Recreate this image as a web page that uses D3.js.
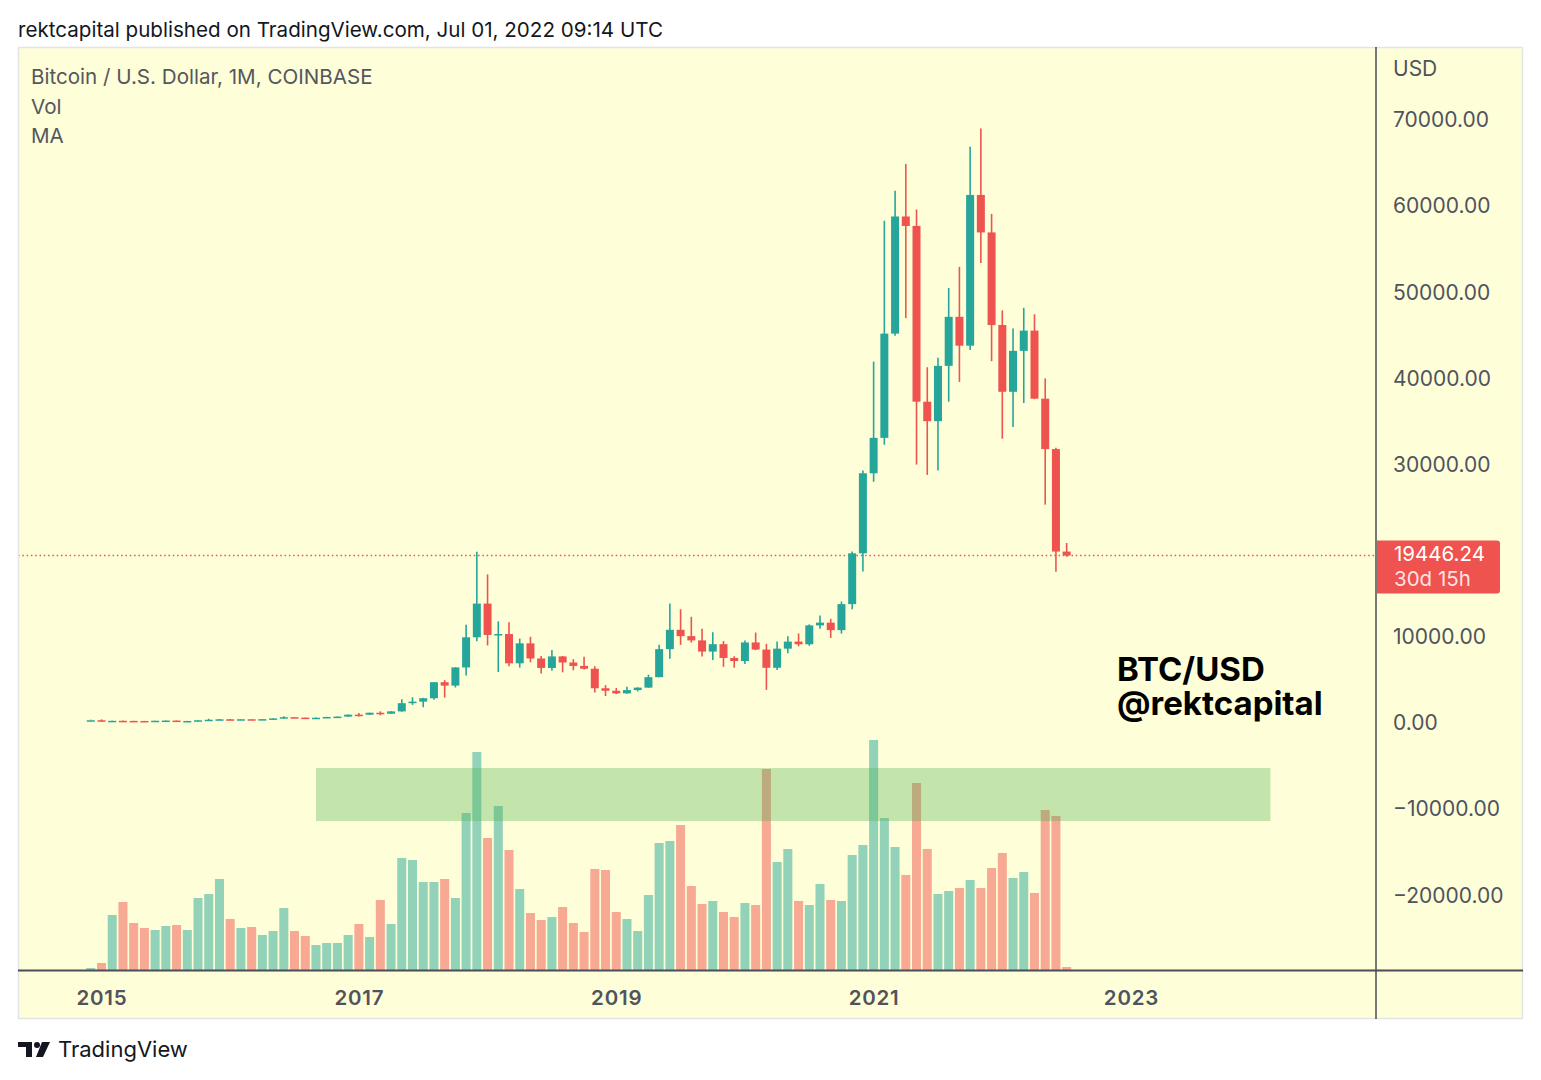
<!DOCTYPE html>
<html><head><meta charset="utf-8">
<script src="https://cdn.jsdelivr.net/npm/d3@7"></script>
<style>
body{margin:0;background:#ffffff;}
text{font-family:Inter,"Noto Sans",sans-serif;}
</style>
</head><body>
<svg id="chart" width="1541" height="1080"></svg>
<script>
// ---------- DATA ----------
const months = [
 "2014-12",
 "2015-01","2015-02","2015-03","2015-04","2015-05","2015-06","2015-07","2015-08","2015-09","2015-10","2015-11","2015-12",
 "2016-01","2016-02","2016-03","2016-04","2016-05","2016-06","2016-07","2016-08","2016-09","2016-10","2016-11","2016-12",
 "2017-01","2017-02","2017-03","2017-04","2017-05","2017-06","2017-07","2017-08","2017-09","2017-10","2017-11","2017-12",
 "2018-01","2018-02","2018-03","2018-04","2018-05","2018-06","2018-07","2018-08","2018-09","2018-10","2018-11","2018-12",
 "2019-01","2019-02","2019-03","2019-04","2019-05","2019-06","2019-07","2019-08","2019-09","2019-10","2019-11","2019-12",
 "2020-01","2020-02","2020-03","2020-04","2020-05","2020-06","2020-07","2020-08","2020-09","2020-10","2020-11","2020-12",
 "2021-01","2021-02","2021-03","2021-04","2021-05","2021-06","2021-07","2021-08","2021-09","2021-10","2021-11","2021-12",
 "2022-01","2022-02","2022-03","2022-04","2022-05","2022-06","2022-07"
];
const open = [
 300,
 318,218,254,244,236,230,263,284,230,236,314,378,
 430,368,437,416,448,531,673,624,573,609,700,742,
 968,965,1190,1079,1348,2300,2480,2875,4735,4340,6450,9950,
 13860,10220,10330,6930,9245,7490,6390,7730,7025,6625,6300,4035,
 3740,3440,3820,4105,5320,8575,10817,10085,9590,8290,9150,7550,
 7195,9350,8525,6410,8630,9450,9140,11330,11650,10780,13800,19700,
 28990,33100,45200,58800,57700,37300,35040,41460,47150,43800,61300,56950,
 46200,38450,43200,45550,37650,31800,19900
];
const high = [
 390,
 420,262,300,260,248,268,315,288,245,340,495,469,
 463,440,440,467,550,780,705,625,630,720,760,975,
 1150,1200,1350,1350,2760,2980,2920,4760,4980,6470,11400,19891,
 17250,11800,11700,9800,10000,7780,8480,7780,7410,7680,6580,4400,
 4070,4210,4140,5610,9090,13880,13200,12330,10950,10540,9520,7750,
 9580,10500,9190,9470,10080,10400,11450,12470,12090,14100,19900,29300,
 41950,58300,61800,64900,59600,41300,42400,50500,52950,66900,69000,59100,
 47900,45800,48200,47450,40000,31950,20900
];
const low = [
 295,
 172,213,235,214,228,221,254,198,225,236,300,350,
 350,365,400,412,435,518,615,540,568,605,685,740,
 750,920,890,1060,1310,2100,1830,2690,2950,4120,5500,9500,
 9000,5920,6600,6430,7050,5750,6080,5880,6120,6200,3550,3130,
 3350,3390,3670,4080,5300,7460,9070,9330,7710,7300,6520,6420,
 6850,8450,3850,6150,8100,8900,8960,10950,9880,10370,13200,17600,
 28000,32300,44950,47000,30000,28800,29300,37300,39600,43300,53400,42000,
 33000,34350,37150,37600,25350,17550,19300
];
const close = [
 318,
 218,254,244,236,230,263,284,230,236,314,378,430,
 368,437,416,448,531,673,624,573,609,700,742,968,
 965,1190,1079,1348,2300,2480,2875,4735,4340,6450,9950,13860,
 10220,10330,6930,9245,7490,6390,7730,7025,6625,6300,4035,3740,
 3440,3820,4105,5320,8575,10817,10085,9590,8290,9150,7550,7195,
 9350,8525,6410,8630,9450,9140,11330,11650,10780,13800,19700,28990,
 33100,45200,58800,57700,37300,35040,41460,47150,43800,61300,56950,46200,
 38450,43200,45550,37650,31800,19900,19446.24
];
// monthly volume (thousand BTC)
const volume = [
 10,
 35,275,340,235,210,200,220,225,200,360,380,455,
 255,210,215,175,195,310,195,170,125,135,135,175,
 230,165,350,230,560,550,440,440,455,360,785,1090,
 660,820,600,405,285,250,265,315,235,190,505,500,
 290,255,195,375,635,645,725,420,330,345,290,265,
 335,325,1005,540,605,345,325,430,350,345,575,625,
 1150,760,615,475,935,605,380,395,410,450,410,510,
 585,460,490,385,800,770,15
];
const priceTicks = [-20000,-10000,0,10000,20000,30000,40000,50000,60000,70000];
const yearTickMonths = ["2015-01","2017-01","2019-01","2021-01","2023-01"];
const yearTickLabels = ["2015","2017","2019","2021","2023"];
const lastPrice = 19446.24;
const countdown = "30d 15h";
const zoneMonths = ["2016-09","2024-02"];
const zonePrices = [-5230,-11380];
const legendLines = ["Bitcoin / U.S. Dollar, 1M, COINBASE","Vol","MA"];
const headerText = "rektcapital published on TradingView.com, Jul 01, 2022 09:14 UTC";
const watermark = ["BTC/USD","@rektcapital"];

// ---------- LAYOUT ----------
const svg = d3.select("#chart");
const W = 1541, H = 1080;
const frame = {x:18, y:47, w:1505, h:972};
const plotRight = 1376, axisBottomY = 970;
const UP = "#26A69A", DOWN = "#EF5350";
const BG = "#FEFED8";

function mIndex(s){ const [yy,mm] = s.split("-").map(Number); return (yy-2014)*12 + (mm-12); }

const x = d3.scaleLinear().domain([1,97]).range([101.5,1131]);
const y = d3.scaleLinear().domain([0,70000]).range([723,120]);
const yv = d3.scaleLinear().domain([0,1150]).range([axisBottomY,740]);

svg.append("rect").attr("width",W).attr("height",H).attr("fill","#fff");
svg.append("text").attr("x",18).attr("y",37).attr("font-size",20.6).attr("fill","#131722").text(headerText);

svg.append("rect").attr("x",frame.x+0.5).attr("y",frame.y+0.5).attr("width",frame.w-1).attr("height",frame.h-1)
  .attr("fill",BG).attr("stroke","#E3E4E8").attr("stroke-width",1.5);

const defs = svg.append("defs");
defs.append("clipPath").attr("id","plotclip").append("rect")
  .attr("x",frame.x+1).attr("y",frame.y+1).attr("width",plotRight-frame.x-1).attr("height",axisBottomY-frame.y-1);

const data = months.map((m,i)=>({m, i:mIndex(m), o:open[i], h:high[i], l:low[i], c:close[i], v:volume[i]}));

const plot = svg.append("g").attr("clip-path","url(#plotclip)");

// volume bars
plot.append("g").selectAll("rect").data(data).join("rect")
  .attr("x", d=>x(d.i)-4.5).attr("width",9)
  .attr("y", d=>yv(d.v)).attr("height", d=>axisBottomY - yv(d.v))
  .attr("fill", d=> d.c>=d.o ? UP : DOWN).attr("fill-opacity",0.5);

// highlighted zone
plot.append("rect")
  .attr("x", x(mIndex(zoneMonths[0]))).attr("width", x(mIndex(zoneMonths[1])) - x(mIndex(zoneMonths[0])))
  .attr("y", y(zonePrices[0])).attr("height", y(zonePrices[1]) - y(zonePrices[0]))
  .attr("fill","rgb(76,175,80)").attr("fill-opacity",0.33);

// last price dotted line
plot.append("line").attr("x1",frame.x).attr("x2",plotRight).attr("y1",y(lastPrice)).attr("y2",y(lastPrice))
  .attr("stroke",DOWN).attr("stroke-width",1.5).attr("stroke-dasharray","1.5 2.8");

// candles
const cg = plot.append("g").selectAll("g").data(data).join("g");
cg.append("line").attr("x1",d=>x(d.i)).attr("x2",d=>x(d.i)).attr("y1",d=>y(d.h)).attr("y2",d=>y(d.l))
  .attr("stroke",d=>d.c>=d.o?UP:DOWN).attr("stroke-width",1.6);
cg.append("rect").attr("x",d=>x(d.i)-4).attr("width",8)
  .attr("y",d=>Math.min(y(d.o),y(d.c)))
  .attr("height",d=>Math.max(1.5, Math.abs(y(d.o)-y(d.c))))
  .attr("fill",d=>d.c>=d.o?UP:DOWN);

// axes lines
svg.append("line").attr("x1",plotRight).attr("x2",plotRight).attr("y1",frame.y).attr("y2",frame.y+frame.h)
  .attr("stroke","#4A4D57").attr("stroke-width",1.5);
svg.append("line").attr("x1",frame.x).attr("x2",frame.x+frame.w).attr("y1",axisBottomY+0.5).attr("y2",axisBottomY+0.5)
  .attr("stroke","#4A4D57").attr("stroke-width",2);

// price axis
const fmt = d => (d<0?"\u2212":"") + Math.abs(d).toFixed(2);
const ya = svg.append("g").attr("transform",`translate(${plotRight},0)`)
  .call(d3.axisRight(y).tickValues(priceTicks).tickSize(0).tickPadding(17).tickFormat(fmt));
ya.select(".domain").remove();
ya.selectAll("text").attr("font-size",21).attr("fill","#50535E").style("font-family","Inter");

svg.append("text").attr("x",1393).attr("y",76).attr("font-size",21).attr("fill","#50535E").text("USD");

// time axis
const xa = svg.append("g").attr("transform",`translate(0,${axisBottomY})`)
  .call(d3.axisBottom(x).tickValues(yearTickMonths.map(mIndex)).tickSize(0).tickPadding(20)
    .tickFormat((d,i)=>yearTickLabels[i]));
xa.select(".domain").remove();
xa.selectAll("text").attr("font-size",20.5).attr("font-weight",600).attr("letter-spacing",0.8)
  .attr("fill","#50535E").style("font-family","Inter");

// legend
svg.append("g").selectAll("text").data(legendLines).join("text")
  .attr("x",31).attr("y",(d,i)=>84+i*29.5).attr("font-size",20.6).attr("fill","#555760").text(d=>d);

// watermark text
svg.append("g").selectAll("text").data(watermark).join("text")
  .attr("x",1117).attr("y",(d,i)=>681+i*34).attr("font-size",33).attr("font-weight",700).attr("fill","#000")
  .text(d=>d);

// last price label
const ly = y(lastPrice);
svg.append("path").attr("d",`M${plotRight+1},${ly-15} h120 a3,3 0 0 1 3,3 v47 a3,3 0 0 1 -3,3 h-120 z`).attr("fill",DOWN);
svg.append("text").attr("x",1394).attr("y",ly+6).attr("font-size",20.5).attr("fill","#fff").text(lastPrice.toFixed(2));
svg.append("text").attr("x",1394).attr("y",ly+31).attr("font-size",20.5).attr("fill","#fff").attr("fill-opacity",0.85).text(countdown);

// TradingView logo
const logo = svg.append("g").attr("fill","#131722");
logo.append("path").attr("d","M18,1042 h14 v15 h-6 v-10 h-8 z");
logo.append("circle").attr("cx",37).attr("cy",1045).attr("r",3);
logo.append("path").attr("d","M42,1042 h8 l-7,15 h-7 z");
svg.append("text").attr("x",58).attr("y",1057).attr("font-size",22).attr("fill","#131722").text("TradingView");
</script>
</body></html>
